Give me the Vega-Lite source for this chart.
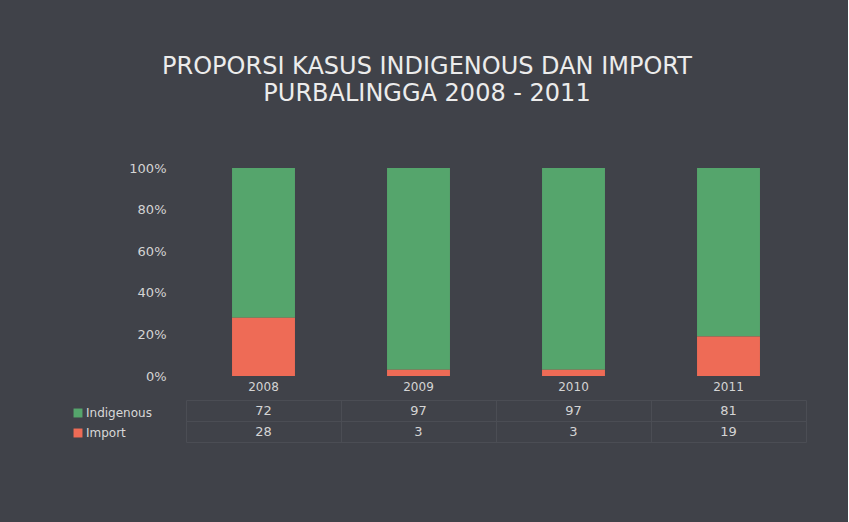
{
  "$schema": "https://vega.github.io/schema/vega-lite/v6.json",
  "background": "#404249",
  "padding": {"left": 72, "top": 55, "right": 42, "bottom": 80},
  "title": {
    "text": ["PROPORSI KASUS INDIGENOUS DAN IMPORT", "PURBALINGGA 2008 - 2011"],
    "font": "DejaVu Sans",
    "fontSize": 24,
    "fontWeight": "normal",
    "color": "#ececec",
    "lineHeight": 27,
    "anchor": "middle",
    "offset": 56,
    "dx": -12
  },
  "datasets": {
    "d": [
      {"year": "2008", "series": "Indigenous", "value": 72},
      {"year": "2008", "series": "Import", "value": 28},
      {"year": "2009", "series": "Indigenous", "value": 97},
      {"year": "2009", "series": "Import", "value": 3},
      {"year": "2010", "series": "Indigenous", "value": 97},
      {"year": "2010", "series": "Import", "value": 3},
      {"year": "2011", "series": "Indigenous", "value": 81},
      {"year": "2011", "series": "Import", "value": 19}
    ]
  },
  "config": {
    "view": {"stroke": null},
    "axis": {"labelFont": "DejaVu Sans", "labelColor": "#d4d4d4", "labelFontSize": 13}
  },
  "spacing": 8,
  "vconcat": [
    {
      "width": 620,
      "height": 208,
      "data": {"name": "d"},
      "mark": {"type": "bar"},
      "encoding": {
        "x": {
          "field": "year",
          "type": "nominal",
          "scale": {"paddingInner": 0.594, "paddingOuter": 0.297},
          "axis": {"title": null, "labelAngle": 0, "domain": false, "ticks": false, "labelPadding": 5, "labelFontSize": 12}
        },
        "y": {
          "field": "value",
          "type": "quantitative",
          "stack": "normalize",
          "axis": {"title": null, "format": ".0%", "grid": false, "domain": false, "ticks": false, "labelPadding": 20, "values": [0, 0.2, 0.4, 0.6, 0.8, 1]}
        },
        "color": {
          "field": "series",
          "type": "nominal",
          "scale": {"domain": ["Indigenous", "Import"], "range": ["#55a56c", "#ee6b56"]},
          "legend": {
            "orient": "none",
            "legendX": -114,
            "legendY": 239,
            "title": null,
            "symbolType": "square",
            "symbolSize": 80,
            "symbolStrokeWidth": 0,
            "labelColor": "#d8d8d8",
            "labelFont": "DejaVu Sans",
            "labelFontSize": 12,
            "labelOffset": 2,
            "rowPadding": 8
          }
        },
        "order": {"field": "series", "sort": "ascending"}
      }
    },
    {
      "width": 620,
      "height": 42,
      "data": {"name": "d"},
      "mark": {"type": "text", "font": "DejaVu Sans", "fontSize": 13, "color": "#d4d4d4"},
      "encoding": {
        "x": {
          "field": "year",
          "type": "nominal",
          "scale": {"paddingInner": 0, "paddingOuter": 0},
          "axis": {"title": null, "labels": false, "ticks": false, "domain": false, "grid": true, "tickBand": "extent", "gridColor": "#4b4d54", "gridWidth": 1}
        },
        "y": {
          "field": "series",
          "type": "nominal",
          "sort": ["Indigenous", "Import"],
          "scale": {"paddingInner": 0, "paddingOuter": 0},
          "axis": {"title": null, "labels": false, "ticks": false, "domain": false, "grid": true, "tickBand": "extent", "gridColor": "#4b4d54", "gridWidth": 1}
        },
        "text": {"field": "value", "type": "quantitative"}
      }
    }
  ],
  "resolve": {"scale": {"x": "independent"}}
}
